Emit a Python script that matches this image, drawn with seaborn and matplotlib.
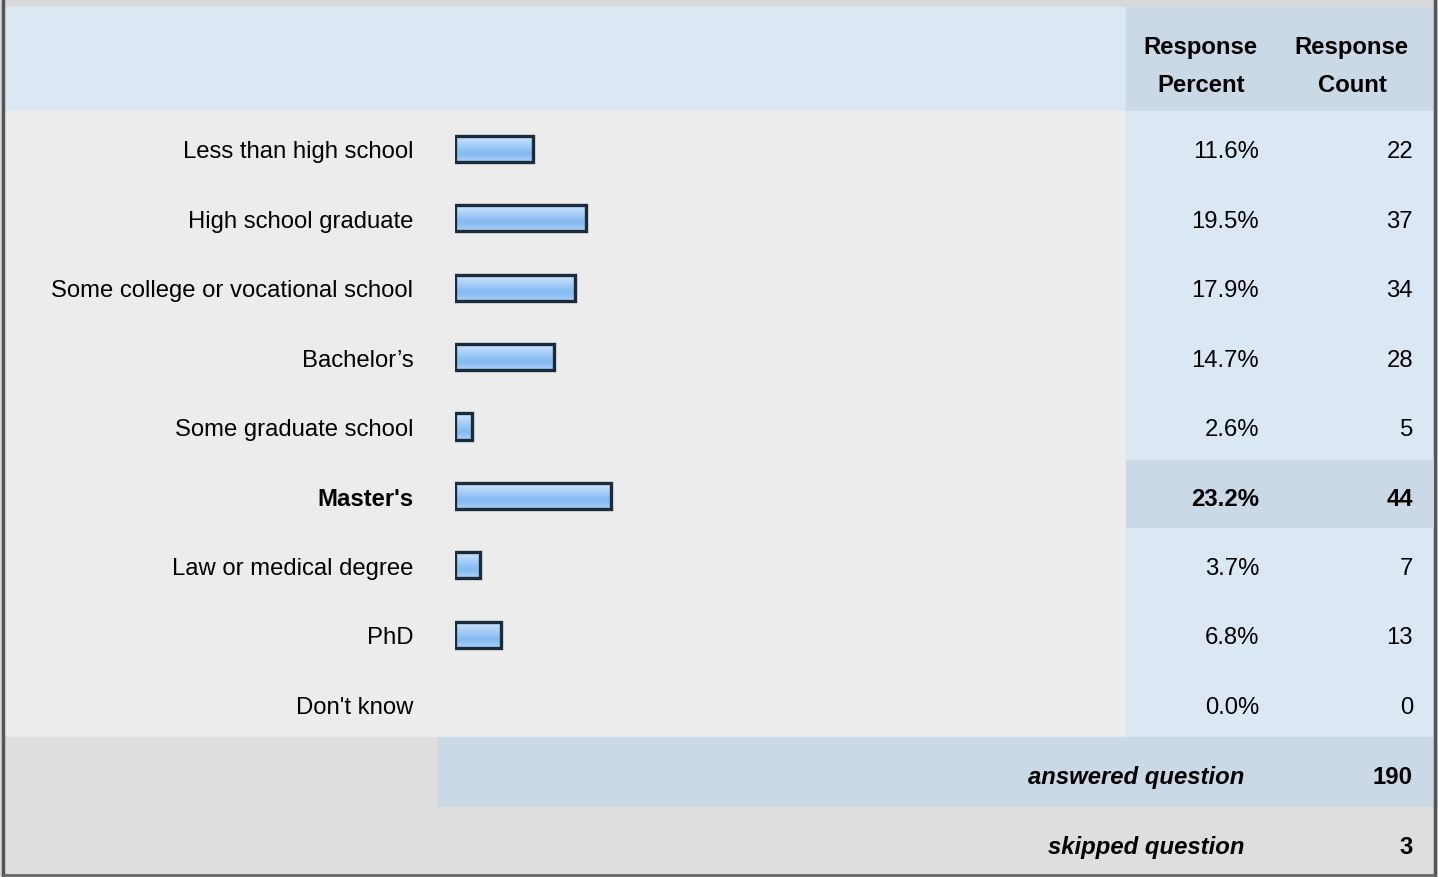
import numpy as np
import pandas as pd
import seaborn as sns
import matplotlib.pyplot as plt
from matplotlib.patches import Rectangle
from matplotlib import transforms

categories = ["Less than high school", "High school graduate",
              "Some college or vocational school", "Bachelor\u2019s",
              "Some graduate school", "Master's", "Law or medical degree",
              "PhD", "Don't know"]
percents = [11.6, 19.5, 17.9, 14.7, 2.6, 23.2, 3.7, 6.8, 0.0]
counts = [22, 37, 34, 28, 5, 44, 7, 13, 0]
highlight = "Master's"
answered = 190
skipped = 3

df = pd.DataFrame({"category": categories, "percent": percents, "count": counts})

sns.set_theme(style="white")
plt.rcParams["font.family"] = ["Liberation Sans", "DejaVu Sans"]
plt.rcParams["text.color"] = "black"

W, H = 1438, 878
fig = plt.figure(figsize=(W / 100, H / 100), dpi=100)

# background table layout, in pixel coordinates
bg = fig.add_axes([0, 0, 1, 1])
bg.set_xlim(0, W)
bg.set_ylim(H, 0)
bg.axis("off")

light_blue = "#dce7f4"
mid_blue = "#cbd8e6"
body_gray = "#ececec"
foot_gray = "#dedede"

bg.add_patch(Rectangle((0, 0), W, H, color="#d9d9d9", zorder=0))
bg.add_patch(Rectangle((4, 8), 1122, 104, color=light_blue, zorder=1))
bg.add_patch(Rectangle((1126, 8), 308, 104, color=mid_blue, zorder=1))
bg.add_patch(Rectangle((4, 112), 1122, 626, color=body_gray, zorder=1))
bg.add_patch(Rectangle((1126, 112), 308, 626, color=light_blue, zorder=1))
bg.add_patch(Rectangle((4, 738), 434, 70, color=foot_gray, zorder=1))
bg.add_patch(Rectangle((438, 738), 996, 70, color=mid_blue, zorder=1))
bg.add_patch(Rectangle((4, 808), 1430, 68, color=foot_gray, zorder=1))
bg.plot([3, 3], [0, 877], color="#555555", lw=2.5, zorder=2)
bg.plot([1435, 1435], [0, 877], color="#555555", lw=2.5, zorder=2)
bg.plot([3, 1435], [876.5, 876.5], color="#666666", lw=2, zorder=2)

# bar area
top, bottom = 115.3, 739.7
ax = fig.add_axes([455 / W, 1 - bottom / H, (1127 - 455) / W, (bottom - top) / H])
ax.set_facecolor("none")

sns.barplot(data=df, x="percent", y="category", orient="h", width=0.375,
            color="#9cc8f5", edgecolor="#1c2b3a", linewidth=2.4, ax=ax,
            saturation=1)

grad = np.array([0.9, 0.75, 0.6, 0.45, 0.3, 0.35, 0.6]).reshape(-1, 1)
cmap = sns.blend_palette(["#62a4ee", "#d8ebfd"], as_cmap=True)
for p in list(ax.patches):
    if p.get_width() <= 0:
        p.set_visible(False)
        continue
    x, y, w, h = p.get_x(), p.get_y(), p.get_width(), p.get_height()
    im = ax.imshow(grad, cmap=cmap, vmin=0, vmax=1, aspect="auto",
                   extent=[x, x + w, y + h, y], zorder=2, interpolation="bicubic")
    im.set_clip_path(p)
    p.set_facecolor("none")
    p.set_zorder(3)
ax.set_xlim(0, 100)
ax.set_ylim(len(categories) - 0.5, -0.5)

trans = transforms.blended_transform_factory(bg.transData, ax.transData)
hi = categories.index(highlight)
ax.add_patch(Rectangle((1126, hi - 0.52), 308, 0.98, facecolor=mid_blue,
                       edgecolor="none", transform=trans, zorder=0, clip_on=False))

for s in ax.spines.values():
    s.set_visible(False)
ax.set_xticks([])
ax.set_xlabel("")
ax.set_ylabel("")
ax.tick_params(axis="y", length=0, pad=30, labelsize=17.2, labelcolor="black")
for lab in ax.get_yticklabels():
    if lab.get_text() == highlight:
        lab.set_fontweight("bold")

for i, (p, c) in enumerate(zip(percents, counts)):
    wt = "bold" if categories[i] == highlight else "normal"
    ax.text(1259, i, f"{p:.1f}%", ha="right", va="center_baseline", fontsize=17.2,
            fontweight=wt, transform=trans, clip_on=False)
    ax.text(1413, i, f"{c}", ha="right", va="center_baseline", fontsize=17.2,
            fontweight=wt, transform=trans, clip_on=False)

# header
hdr = dict(ha="center", va="center_baseline", fontsize=17.2, fontweight="bold", zorder=3)
bg.text(1200, 45, "Response", **hdr)
bg.text(1201, 83, "Percent", **hdr)
bg.text(1351, 45, "Response", **hdr)
bg.text(1352, 83, "Count", **hdr)

# footer
ft = dict(va="center_baseline", fontsize=17.2, fontweight="bold", zorder=3)
bg.text(1244, 775, "answered question", ha="right", fontstyle="italic", **ft)
bg.text(1413, 775, f"{answered}", ha="right", **ft)
bg.text(1244, 845, "skipped question", ha="right", fontstyle="italic", **ft)
bg.text(1413, 845, f"{skipped}", ha="right", **ft)

fig.savefig("out.png", dpi=100)
